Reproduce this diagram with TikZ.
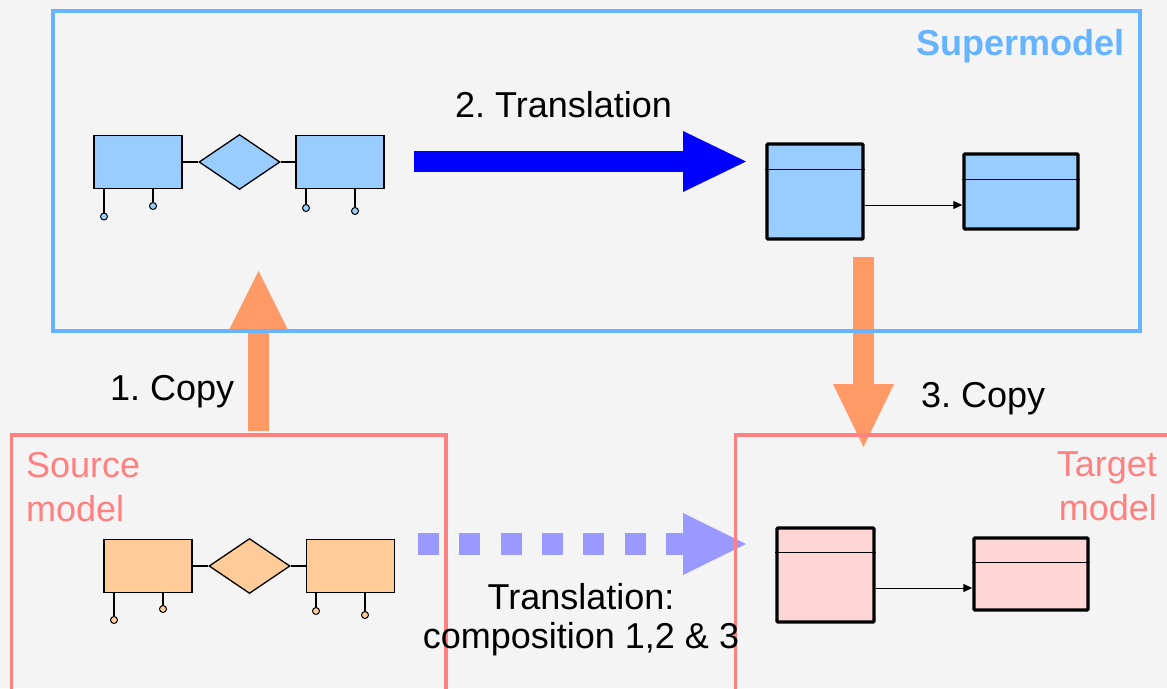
\documentclass[tikz,border=0pt]{standalone}
\usepackage{fontspec}
\setmainfont{Liberation Sans}
\frenchspacing
\usetikzlibrary{shapes.geometric,arrows.meta}
\definecolor{superblue}{HTML}{66B3FF}
\definecolor{modelred}{HTML}{FF8080}
\definecolor{copyorange}{HTML}{FF9966}
\definecolor{erblue}{HTML}{99CCFF}
\definecolor{erorange}{HTML}{FFCC99}
\definecolor{tabpink}{HTML}{FFD6D6}
\definecolor{dotblue}{HTML}{9999FF}
\definecolor{bggray}{HTML}{F4F4F4}
\newcommand\diafont{\fontsize{36}{44}\selectfont}

\begin{document}
\begin{tikzpicture}[x=1pt,y=-1pt,
  entity/.style={draw,line width=1.3pt,fill=#1,minimum width=88pt,minimum height=53pt,inner sep=0pt},
  relship/.style={draw,diamond,line width=1.3pt,fill=#1,minimum width=81pt,minimum height=55pt,inner sep=0pt},
  attrib/.style={draw,circle,line width=1pt,fill=#1,minimum size=7pt,inner sep=0pt},
  reltab/.style={draw,line width=3.4pt,rounded corners=1pt,fill=#1,inner sep=0pt},
  bigarrow/.style={#1,line width=21pt,-{Triangle[length=60pt,width=60pt,line width=0pt]}},
  lbl/.style={font=\diafont,inner sep=0pt}]
\useasboundingbox (0,0) rectangle (1167,688);
\fill[bggray] (0,0) rectangle (1167,688);
\clip (0,0) rectangle (1167,688);

% block arrows
\coordinate (cp1a) at (258.5,431);
\coordinate (cp1b) at (258.5,271);
\coordinate (tr2a) at (414,161.5);
\coordinate (tr2b) at (746,161.5);
\coordinate (cp3a) at (863.5,257);
\coordinate (cp3b) at (863.5,447);
\coordinate (compa) at (418,544);
\coordinate (compb) at (746,544);
\draw[bigarrow=copyorange] (cp1a) -- (cp1b);
\draw[bigarrow=blue,line width=21.5pt,-{Triangle[length=63pt,width=61pt,line width=0pt]}] (tr2a) -- (tr2b);
\draw[bigarrow=copyorange,-{Triangle[length=63pt,width=61pt,line width=0pt]}] (cp3a) -- (cp3b);
\draw[bigarrow=dotblue,line width=22pt,dash pattern=on 21pt off 20.3pt,-{Triangle[length=63pt,width=62pt,line width=0pt]}] (compa) -- (compb);

% model frames
\draw[superblue,line width=4pt] (53,10.5) rectangle (1140,331);
\draw[modelred,line width=3.5pt] (11.5,435) rectangle (446,700);
\draw[modelred,line width=3.5pt] (735.5,435) rectangle (1190,700);

% ER schema in the supermodel
\node[entity=erblue] (e1) at (138,162) {};
\node[relship=erblue] (r1) at (239.5,162) {};
\node[entity=erblue] (e2) at (340,162) {};
\draw[line width=1.3pt] (e1) -- (r1) -- (e2);
\node[attrib=erblue] (a1) at (104,216.5) {};
\node[attrib=erblue] (a2) at (153,206) {};
\node[attrib=erblue] (a3) at (306,208) {};
\node[attrib=erblue] (a4) at (355,211) {};
\draw[line width=1.3pt] (a1) -- (a1 |- e1.south);
\draw[line width=1.3pt] (a2) -- (a2 |- e1.south);
\draw[line width=1.3pt] (a3) -- (a3 |- e2.south);
\draw[line width=1.3pt] (a4) -- (a4 |- e2.south);

% relational schema in the supermodel
\node[reltab=erblue,minimum width=96pt,minimum height=95pt] (t1) at (815,191.5) {};
\node[reltab=erblue,minimum width=114pt,minimum height=75pt] (t2) at (1021,191.5) {};
\draw[line width=1.5pt] ([yshift=-27pt]t1.north west) -- ([yshift=-27pt]t1.north east);
\draw[line width=1.5pt] ([yshift=-27pt]t2.north west) -- ([yshift=-27pt]t2.north east);
\draw[line width=1pt,-{Triangle[length=9pt,width=8pt]}] ([yshift=-13.5pt]t1.east) -- ([yshift=-13.5pt]t1.east -| t2.west);

% source ER schema
\node[entity=erorange] (se1) at (148,566) {};
\node[relship=erorange] (sr1) at (249.5,566) {};
\node[entity=erorange] (se2) at (350.5,566) {};
\draw[line width=1.3pt] (se1) -- (sr1) -- (se2);
\node[attrib=erorange] (sa1) at (114,620) {};
\node[attrib=erorange] (sa2) at (163,609) {};
\node[attrib=erorange] (sa3) at (316,611) {};
\node[attrib=erorange] (sa4) at (365,615) {};
\draw[line width=1.3pt] (sa1) -- (sa1 |- se1.south);
\draw[line width=1.3pt] (sa2) -- (sa2 |- se1.south);
\draw[line width=1.3pt] (sa3) -- (sa3 |- se2.south);
\draw[line width=1.3pt] (sa4) -- (sa4 |- se2.south);

% target relational schema
\node[reltab=tabpink,minimum width=97pt,minimum height=94pt] (tt1) at (825.5,575) {};
\node[reltab=tabpink,minimum width=114pt,minimum height=72pt] (tt2) at (1031,574) {};
\draw[line width=1.5pt] ([yshift=-26pt]tt1.north west) -- ([yshift=-26pt]tt1.north east);
\draw[line width=1.5pt] ([yshift=-26pt]tt2.north west) -- ([yshift=-26pt]tt2.north east);
\draw[line width=1pt,-{Triangle[length=9pt,width=8pt]}] ([yshift=-13pt]tt1.east) -- ([yshift=-13pt]tt1.east -| tt2.west);

% labels
\node[lbl,text=superblue,anchor=base east,font=\diafont\bfseries] (supl) at (1125,55) {Supermodel};
\node[lbl,text=modelred,anchor=north west,align=left] (srcl) at (26,452) {Source\\model};
\node[lbl,text=modelred,anchor=north east,align=right] (tgtl) at (1157,452) {Target\\model};
\node[lbl,anchor=base] (tr2l) at (563.5,117) {2. Translation};
\node[lbl,anchor=base west] (cp1l) at (110,400) {1. Copy};
\node[lbl,anchor=base west] (cp3l) at (921,407) {3. Copy};
\node[lbl,anchor=north,align=center,font=\fontsize{36}{39}\selectfont] (compl) at (581,583) {Translation:\\composition 1,2 \& 3};
\end{tikzpicture}
\end{document}
